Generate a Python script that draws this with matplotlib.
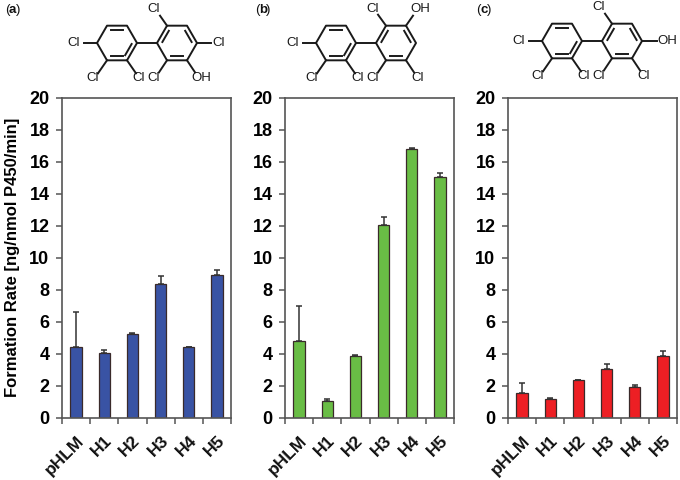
import numpy as np
import matplotlib
matplotlib.use("Agg")
import matplotlib.pyplot as plt

plt.rcParams['font.family'] = ['Liberation Sans', 'DejaVu Sans']

categories = ["pHLM", "H1", "H2", "H3", "H4", "H5"]
values_a = [4.42, 4.03, 5.2, 8.38, 4.42, 8.95]
errors_a = [2.18, 0.18, 0.1, 0.5, 0.0, 0.3]
values_b = [4.82, 1.03, 3.83, 12.08, 16.8, 15.08]
errors_b = [2.18, 0.15, 0.1, 0.45, 0.05, 0.25]
values_c = [1.52, 1.18, 2.33, 3.03, 1.93, 3.88]
errors_c = [0.65, 0.03, 0.0, 0.3, 0.1, 0.27]
colors = ["#3953a4", "#69bd45", "#ed1f24"]
panel_labels = ["a", "b", "c"]
yticks = list(range(0, 21, 2))
ylabel = "Formation Rate [ng/nmol P450/min]"

W, H = 680, 480
fig = plt.figure(figsize=(W / 100, H / 100), dpi=100)
boxes = [(62, 231), (285, 454), (508, 677)]
top, bottom = 98, 417.5
gray = "#555555"

for (l, r), vals, errs, col, in zip(boxes, [values_a, values_b, values_c],
                                    [errors_a, errors_b, errors_c], colors):
    ax = fig.add_axes([l / W, 1 - bottom / H, (r - l) / W, (bottom - top) / H])
    x = np.arange(len(categories))
    ax.bar(x, vals, width=0.4, color=col, edgecolor="#3a2a2a", linewidth=0.9, zorder=2)
    ax.errorbar(x, vals, yerr=[np.zeros(len(errs)), errs], fmt="none", ecolor="#333333",
                elinewidth=1.1, capsize=2.0, capthick=1.1, zorder=3)
    ax.set_xlim(-0.5, 5.5)
    ax.set_ylim(0, 20)
    ax.set_yticks(yticks)
    ax.set_yticklabels([str(t) for t in yticks], fontsize=13, fontweight="bold")
    ax.set_xticks(np.arange(-0.5, 6, 1))
    ax.set_xticklabels([])
    ax.tick_params(axis="both", direction="out", length=4, width=1.1, color=gray, pad=5)
    for s in ax.spines.values():
        s.set_color(gray)
        s.set_linewidth(1.2)
    for xi, name in zip(x, categories):
        ax.annotate(name, xy=(xi, 0), xycoords=("data", "axes fraction"),
                    xytext=(0, -11), textcoords="offset points", rotation=45,
                    ha="right", va="top", rotation_mode="anchor",
                    fontsize=12.5, fontweight="bold", color="#111111")
    if l == boxes[0][0]:
        ax.set_ylabel(ylabel, fontsize=12, fontweight="bold", labelpad=7)

# overlay in pixel coordinates for the chemical structures
ov = fig.add_axes([0, 0, 1, 1], zorder=5)
ov.set_xlim(0, W)
ov.set_ylim(H, 0)
ov.axis("off")
R = 20.0
LW = 1.4
ANG = np.deg2rad([180, 240, 300, 0, 60, 120])  # left, up-left, up-right, right, low-right, low-left


def ring(cx, cy, inner):
    pts = np.c_[cx + R * np.cos(ANG), cy + R * np.sin(ANG)]
    closed = np.vstack([pts, pts[0]])
    ov.plot(closed[:, 0], closed[:, 1], color="#1a1a1a", lw=LW, solid_capstyle="round")
    for i in inner:
        a, b = pts[i], pts[(i + 1) % 6]
        c = np.array([cx, cy])
        a2 = c + (a - c) * 0.76
        b2 = c + (b - c) * 0.76
        m = (a2 + b2) / 2
        a2, b2 = m + (a2 - m) * 0.85, m + (b2 - m) * 0.85
        ov.plot([a2[0], b2[0]], [a2[1], b2[1]], color="#1a1a1a", lw=LW)
    return pts


def sub(pts, i, dx, dy, text, tx, ty):
    p = pts[i]
    ov.plot([p[0], p[0] + dx], [p[1], p[1] + dy], color="#1a1a1a", lw=LW)
    ov.text(p[0] + tx, p[1] + ty, text, ha="center", va="center", fontsize=9.5, color="#1a1a1a")


def molecule(cx1, cx2, cy, right_subs):
    p1 = ring(cx1, cy, [1, 3, 4])
    p2 = ring(cx2, cy, [0, 2, 4])
    ov.plot([p1[3][0], p2[0][0]], [cy, cy], color="#1a1a1a", lw=LW)
    sub(p1, 0, -13, 0, "Cl", -23, 0)
    sub(p1, 5, -9, 13, "Cl", -14, 17.5)
    sub(p1, 4, 9, 13, "Cl", 12, 17.5)
    for s in right_subs:
        sub(p2, *s)


molecule(117, 177, 43, [(1, -7, -10, "Cl", -13, -17), (3, 14, 0, "Cl", 22, 0),
                        (4, 8, 12, "OH", 14, 17.5), (5, -8, 12, "Cl", -13, 17.5)])
molecule(336, 396, 43, [(1, -8, -11, "Cl", -13, -17), (2, 7, -10, "OH", 14, -17),
                        (4, 8, 12, "Cl", 12, 17.5), (5, -8, 12, "Cl", -13, 17.5)])
molecule(562, 622, 41, [(1, -7, -10, "Cl", -13, -17), (3, 15, 0, "OH", 25, 0),
                        (4, 8, 12, "Cl", 12, 17.5), (5, -8, 12, "Cl", -13, 17.5)])

for name, (px, py) in zip(panel_labels, [(8.5, 10), (259, 10), (480, 10)]):
    ov.text(px + 1, py, "(", ha="right", va="center", fontsize=9.5, color="#111111")
    ov.text(px + 4, py, name, ha="center", va="center", fontsize=9.5, fontweight="bold", color="#111111")
    ov.text(px + 7, py, ")", ha="left", va="center", fontsize=9.5, color="#111111")

fig.savefig("out.png", dpi=100)
